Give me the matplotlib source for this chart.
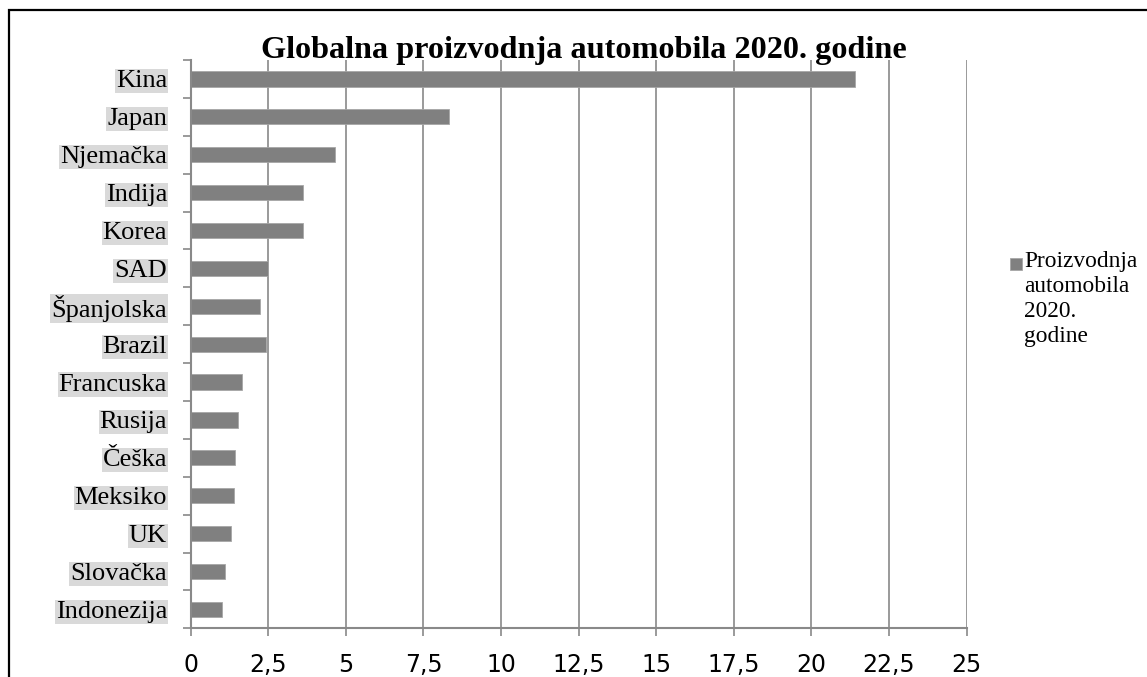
import numpy as np
import matplotlib
matplotlib.use("Agg")
import matplotlib.pyplot as plt
from matplotlib.patches import Rectangle
from matplotlib.ticker import FixedLocator, FuncFormatter

zemlje = ["Kina", "Japan", "Njemačka", "Indija", "Korea", "SAD", "Španjolska",
          "Brazil", "Francuska", "Rusija", "Češka", "Meksiko", "UK", "Slovačka",
          "Indonezija"]
proizvodnja = [21.4, 8.33, 4.66, 3.63, 3.61, 2.50, 2.24, 2.44, 1.66, 1.51,
               1.43, 1.39, 1.30, 1.10, 1.02]
x_ticks = [0, 2.5, 5, 7.5, 10, 12.5, 15, 17.5, 20, 22.5, 25]

naslov = "Globalna proizvodnja automobila 2020. godine"
legenda = "Proizvodnja\nautomobila\n2020.\ngodine"

W, H = 1147, 677
siva = "#808080"
linija = "#898989"

fig = plt.figure(figsize=(W / 100, H / 100), dpi=100)
ax = fig.add_axes([190.7 / W, 1 - 628.3 / H, (966.5 - 190.7) / W, (628.3 - 60) / H])

y = np.arange(len(zemlje))
ax.barh(y, proizvodnja, height=0.4, color=siva, edgecolor="#a6a6a6", linewidth=0.6, zorder=3)

ax.set_xlim(0, 25)
ax.set_ylim(len(zemlje) - 0.5, -0.5)

# vertikalne linije mreže
ax.xaxis.set_major_locator(FixedLocator(x_ticks))
ax.xaxis.set_major_formatter(FuncFormatter(lambda v, p: f"{v:g}".replace(".", ",")))
ax.grid(axis="x", color=linija, linewidth=1.2, zorder=1)

for s in ["top", "right"]:
    ax.spines[s].set_visible(False)
for s in ["left", "bottom"]:
    ax.spines[s].set_color(linija)
    ax.spines[s].set_linewidth(1.5)
    ax.spines[s].set_zorder(4)

ax.tick_params(axis="x", which="major", length=6, width=1.2, color=linija,
               direction="out", pad=11.5, labelsize=17)
for t in ax.get_xticklabels():
    t.set_family(["Liberation Sans Narrow", "DejaVu Sans"])

# kategorije: oznake u sredini, crtice na granicama
ax.set_yticks(y)
ax.set_yticklabels(zemlje, family="Liberation Serif", fontsize=19)
ax.yaxis.set_minor_locator(FixedLocator(np.arange(-0.5, len(zemlje), 1)))
ax.tick_params(axis="y", which="major", length=0, pad=17)
ax.tick_params(axis="y", which="minor", length=6, width=1.2, color=linija, direction="out")
for t in ax.get_yticklabels():
    t.set_bbox(dict(facecolor="#d9d9d9", edgecolor="none", boxstyle="square,pad=0.04"))

fig.text(583.5 / W, 1 - 50.5 / H, naslov, family="Liberation Serif", fontsize=23.2,
         fontweight="bold", ha="center", va="center", zorder=10)

# legenda
fig.patches.append(Rectangle((1010 / W, 1 - 269.5 / H), 11.5 / W, 11.5 / H,
                             transform=fig.transFigure, facecolor=siva,
                             edgecolor="#a6a6a6", linewidth=0.6))
fig.text(1024 / W, 1 - 250.5 / H, legenda, family="Liberation Serif", fontsize=16.8,
         ha="left", va="top", linespacing=1.27)

# okvir
fig.patches.append(Rectangle((8.5 / W, -0.5), 2.0, 1.5 - 10 / H,
                             transform=fig.transFigure, fill=False,
                             edgecolor="black", linewidth=1.6))

fig.savefig("out.png", dpi=100)
